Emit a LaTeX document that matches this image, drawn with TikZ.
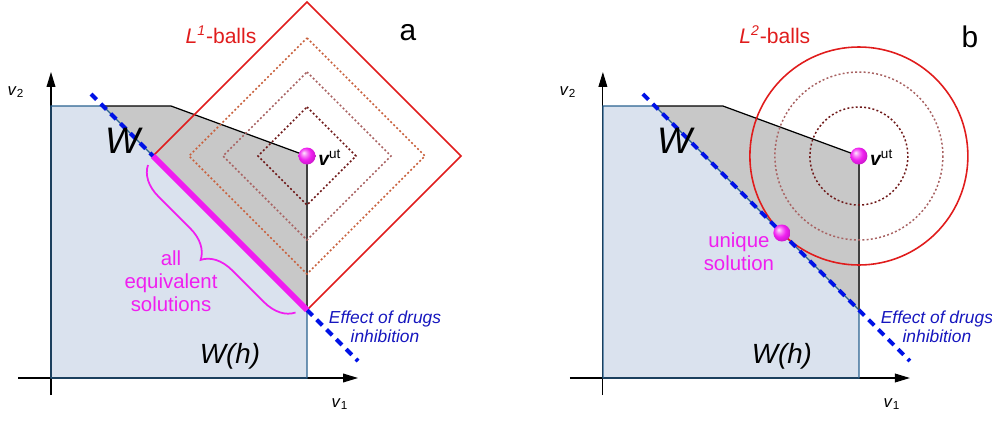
\documentclass[tikz,border=0pt]{standalone}
\usepackage{fontspec}
\setmainfont{Liberation Sans}
\usetikzlibrary{arrows.meta, decorations.pathreplacing, shadings}
\definecolor{RegionFill}{HTML}{DAE2EE}
\definecolor{RegionEdge}{HTML}{2A6290}
\definecolor{FeasFill}{HTML}{C8C8C8}
\definecolor{BallRed}{HTML}{E01C1C}
\definecolor{DrugBlue}{HTML}{0012E6}
\definecolor{DrugText}{HTML}{1616BE}
\definecolor{SolMagenta}{HTML}{F01EF0}
\definecolor{DotOuter}{HTML}{C8603C}
\definecolor{DotMid}{HTML}{A86262}
\definecolor{DotInner}{HTML}{6E1818}
\pgfdeclareradialshading{pinkball}{\pgfqpoint{-10bp}{10bp}}{%
  color(0bp)=(SolMagenta!10!white); color(9bp)=(SolMagenta!60!white);
  color(18bp)=(SolMagenta); color(25bp)=(SolMagenta!90!black);
  color(50bp)=(SolMagenta!55!black)}

\begin{document}
\begin{tikzpicture}[x=0.02cm, y=-0.02cm,
    axis/.style={-{Triangle[length=8.5pt,width=5pt]}, line width=0.6pt},
    hbox/.style={draw=RegionEdge, line width=0.7pt},
    wedge/.style={line width=0.7pt},
    drug/.style={DrugBlue, line width=2.3pt, dash pattern=on 4.5pt off 3.4pt},
    lball/.style={BallRed, line width=0.9pt},
    dotball/.style={line width=0.85pt, dash pattern=on 1.1pt off 1.3pt},
    sphere/.style={circle, inner sep=0pt, minimum size=0.34cm, shading=pinkball},
    axlbl/.style={anchor=base, font=\fontsize{9.5}{10}\selectfont},
    tag/.style={anchor=base, font=\fontsize{17}{17}\selectfont},
    balls/.style={anchor=base, text=BallRed, font=\fontsize{12}{13}\selectfont},
    bigW/.style={anchor=base, font=\fontsize{21}{22}\selectfont\itshape},
    hW/.style={anchor=base, font=\fontsize{15.8}{18}\selectfont\itshape},
    vlbl/.style={anchor=base west, font=\fontsize{11}{12}\selectfont, inner sep=0pt},
    sol/.style={align=center, text=SolMagenta, font=\fontsize{11.6}{13}\selectfont},
    drugs/.style={align=center, text=DrugText, font=\fontsize{9.9}{10.8}\selectfont\itshape}
  ]
  \useasboundingbox (0,0) rectangle (992,420);

  % Panel a: L1-balls
  \coordinate (ca) at (307,156);
  \fill[RegionFill] (51,106) -- (103,106) -- (307,310) -- (307,378) -- (51,378) -- cycle;
  \fill[FeasFill] (103,106) -- (171,106) -- (ca) -- (307,310) -- cycle;
  \coordinate (xa0) at (18,378);  \coordinate (xa1) at (358,378);
  \coordinate (ya0) at (51,395);  \coordinate (ya1) at (51,72);
  \draw[axis] (xa0) -- (xa1);
  \draw[axis] (ya0) -- (ya1);
  \draw[hbox] (103,106) -- (51,106) -- (51,378) -- (307,378) -- (307,310) -- cycle;
  \draw[wedge] (103,106) -- (171,106) -- (ca);
  \draw[wedge, black!75] (ca) -- (307,310);
  \draw[dotball, DotInner] (ca) ++(0,-49) -- ++(49,49) -- ++(-49,49) -- ++(-49,-49) -- cycle;
  \draw[dotball, DotMid] (ca) ++(0,-84) -- ++(84,84) -- ++(-84,84) -- ++(-84,-84) -- cycle;
  \draw[dotball, DotOuter] (ca) ++(0,-118) -- ++(118,118) -- ++(-118,118) -- ++(-118,-118) -- cycle;
  \draw[lball] (ca) ++(0,-154) -- ++(154,154) -- ++(-154,154) -- ++(-154,-154) -- cycle;
  \coordinate (da0) at (91,94);  \coordinate (da1) at (358,361);
  \draw[drug] (da0) -- (da1);
  \coordinate (ma0) at (153,156);  \coordinate (ma1) at (307,310);
  \draw[SolMagenta, line width=3.4pt] (ma0) -- (ma1);
  \coordinate (ba0) at (148,165);  \coordinate (ba1) at (296,313);
  \draw[SolMagenta, line width=1pt, decorate, decoration={brace, amplitude=17pt, mirror}] (ba0) -- (ba1);
  \node[sphere] (vuta) at (ca) {};
  \node[vlbl] (uta) at (318,165) {{\bfseries\itshape v}\textsuperscript{ut}};
  \node[axlbl] (v2a) at (16,95) {\textit{v}\textsubscript{2}};
  \node[axlbl] (v1a) at (340,407) {\textit{v}\textsubscript{1}};
  \node[tag] (taga) at (408,40) {a};
  \node[balls] (lonea) at (221,43) {\textit{L}\textsuperscript{\textit{1}}-balls};
  \node[bigW] (Wa) at (123,153) {W};
  \node[hW] (Wha) at (230,363) {W(h)};
  \node[sol] (alla) at (171,281) {all\\equivalent\\solutions};
  \node[drugs] (druga) at (385,327) {Effect of drugs\\inhibition};

  % Panel b: L2-balls
  \begin{scope}[xshift=11.04cm]
  \coordinate (cb) at (307,156);
  \fill[RegionFill] (51,106) -- (103,106) -- (307,310) -- (307,378) -- (51,378) -- cycle;
  \fill[FeasFill] (103,106) -- (171,106) -- (cb) -- (307,310) -- cycle;
  \coordinate (xb0) at (18,378);  \coordinate (xb1) at (358,378);
  \coordinate (yb0) at (51,395);  \coordinate (yb1) at (51,72);
  \draw[axis] (xb0) -- (xb1);
  \draw[axis] (yb0) -- (yb1);
  \draw[hbox] (103,106) -- (51,106) -- (51,378) -- (307,378) -- (307,310) -- cycle;
  \draw[wedge] (103,106) -- (171,106) -- (cb);
  \draw[wedge, black!75] (cb) -- (307,310);
  \draw[dotball, DotInner] (cb) circle (49);
  \draw[dotball, DotMid] (cb) circle (84);
  \draw[lball] (cb) circle (109);
  \coordinate (db0) at (91,94);  \coordinate (db1) at (358,361);
  \draw[drug] (db0) -- (db1);
  \node[sphere] (vutb) at (cb) {};
  \node[sphere] (uniq) at (230,233) {};
  \node[vlbl] (utb) at (318,165) {{\bfseries\itshape v}\textsuperscript{ut}};
  \node[axlbl] (v2b) at (16,95) {\textit{v}\textsubscript{2}};
  \node[axlbl] (v1b) at (340,407) {\textit{v}\textsubscript{1}};
  \node[tag] (tagb) at (418,47) {b};
  \node[balls] (ltwob) at (223,43) {\textit{L}\textsuperscript{\textit{2}}-balls};
  \node[bigW] (Wb) at (123,153) {W};
  \node[hW] (Whb) at (230,363) {W(h)};
  \node[sol] (solb) at (187,252) {unique\\solution};
  \node[drugs] (drugb) at (385,327) {Effect of drugs\\inhibition};
  \end{scope}
\end{tikzpicture}
\end{document}
